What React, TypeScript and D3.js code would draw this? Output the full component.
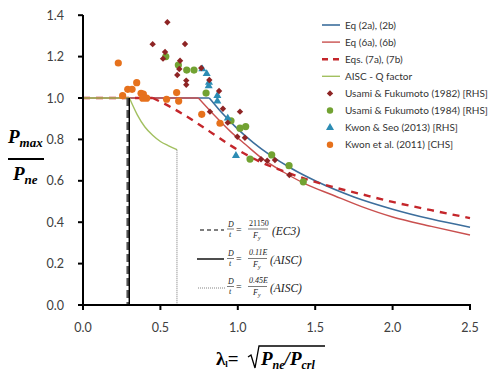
import React from "react";
import * as d3 from "d3";

// curves (lambda_l vs Pmax/Pne)
const eq2Lambda = [0, 0.816, 0.9, 1.0, 1.1, 1.2, 1.35, 1.5, 1.75, 2.0, 2.25, 2.5];
const eq2Ratio = [1, 1, 0.926, 0.85, 0.785, 0.729, 0.658, 0.6, 0.522, 0.463, 0.415, 0.376];

const eq6Lambda = [0, 0.745, 0.85, 0.95, 1.05, 1.15, 1.3, 1.45, 1.6, 1.8, 2.0, 2.25, 2.5];
const eq6Ratio = [1, 1, 0.915, 0.84, 0.775, 0.712, 0.64, 0.58, 0.535, 0.475, 0.425, 0.38, 0.338];

const eq7Lambda = [0, 0.45, 0.55, 0.65, 0.75, 0.85, 0.95, 1.05, 1.15, 1.3, 1.45, 1.6, 1.8, 2.0, 2.25, 2.5];
const eq7Ratio = [1, 1, 0.963, 0.92, 0.872, 0.822, 0.772, 0.728, 0.69, 0.645, 0.606, 0.573, 0.535, 0.498, 0.458, 0.42];

const qLambda = [0, 0.3, 0.35, 0.4, 0.45, 0.5, 0.55, 0.607];
const qRatio = [1, 1, 0.92, 0.86, 0.82, 0.79, 0.77, 0.75];

// slenderness limits (vertical lines)
const ec3Limit = 0.289;
const aiscCompact = 0.299;
const aiscMax = 0.607;
const aiscMaxRatio = 0.75;

// test data [lambda, ratio]
const usami1982: [number, number][] = [
  [0.545, 1.366], [0.45, 1.26], [0.659, 1.261], [0.53, 1.222], [0.517, 1.19],
  [0.627, 1.18], [0.622, 1.14], [0.609, 1.111], [0.764, 1.145], [0.667, 1.084],
  [0.667, 1.064], [0.816, 1.087], [0.879, 1.034], [0.904, 0.948], [0.82, 0.934],
  [1.014, 0.934], [0.935, 0.881], [0.997, 0.813], [1.046, 0.808], [1.15, 0.704],
  [1.19, 0.697], [1.24, 0.7], [1.333, 0.628],
];
const usami1984: [number, number][] = [
  [0.535, 1.2], [0.616, 1.159], [0.67, 1.135], [0.717, 1.135], [0.795, 1.024],
  [0.956, 0.89], [1.014, 0.854], [1.051, 0.862], [1.079, 0.705], [1.219, 0.725],
  [1.331, 0.673], [1.423, 0.595],
];
const kwonSeo: [number, number][] = [
  [0.771, 1.14], [0.799, 1.117], [0.814, 1.075], [0.812, 1.058], [0.868, 1.011],
  [0.868, 0.985], [0.935, 0.902], [0.988, 0.721],
];
const kwon2011: [number, number][] = [
  [0.228, 1.169], [0.256, 1.011], [0.289, 1.042], [0.317, 1.042], [0.347, 1.074],
  [0.375, 1.023], [0.39, 1.019], [0.386, 0.999], [0.411, 0.999], [0.54, 0.994],
  [0.605, 1.026], [0.618, 0.985], [0.767, 0.921], [0.885, 0.878],
];

const xTicks = [0, 0.5, 1.0, 1.5, 2.0, 2.5];
const yTicks = [0, 0.2, 0.4, 0.6, 0.8, 1.0, 1.2, 1.4];

const legendLabels = [
  "Eq (2a), (2b)",
  "Eq (6a), (6b)",
  "Eqs. (7a), (7b)",
  "AISC - Q factor",
  "Usami & Fukumoto (1982) [RHS]",
  "Usami & Fukumoto (1984) [RHS]",
  "Kwon & Seo (2013) [RHS]",
  "Kwon et al. (2011) [CHS]",
];

const BLUE = "#3c6e9c";
const RED = "#c9504f";
const DRED = "#c4262b";
const OLIVE = "#a2c060";
const MAROON = "#8e2424";
const GREEN = "#72a232";
const TEAL = "#2c8cb4";
const ORANGE = "#e6711c";

export default function App() {
  const x = d3.scaleLinear().domain([0, 2.5]).range([83, 470]);
  const y = d3.scaleLinear().domain([0, 1.4]).range([305, 15.2]);

  const straight = d3.line<number[]>().x(d => x(d[0])).y(d => y(d[1]));
  const smooth = d3.line<number[]>().x(d => x(d[0])).y(d => y(d[1])).curve(d3.curveMonotoneX);

  // flat plateau then a smooth falling branch
  const curvePath = (xs: number[], ys: number[]) => {
    const pts = xs.map((v, i) => [v, ys[i]]);
    return (straight(pts.slice(0, 2)) || "") + (smooth(pts.slice(1)) || "");
  };

  const diamond = d3.symbol().type(d3.symbolDiamond2).size(26)() || "";
  const triangle = d3.symbol().type(d3.symbolTriangle).size(28)() || "";

  const font = "Lato, 'Open Sans', sans-serif";
  const serif = "'Liberation Serif', 'DejaVu Serif', serif";

  const legendY = (i: number) => 25 + i * 17.1;

  return (
    <svg width={500} height={386} style={{ position: "fixed", left: 0, top: 0, background: "#fff" }}>
      {/* curves */}
      <path d={curvePath(eq2Lambda, eq2Ratio)} fill="none" stroke={BLUE} strokeWidth={1.6} />
      <path d={curvePath(eq6Lambda, eq6Ratio)} fill="none" stroke={RED} strokeWidth={1.4} />
      <path d={curvePath(eq7Lambda, eq7Ratio)} fill="none" stroke={DRED} strokeWidth={2.4} strokeDasharray="7,6" />
      <path d={curvePath(qLambda, qRatio)} fill="none" stroke={OLIVE} strokeWidth={1.4} />

      {/* slenderness limits */}
      <line x1={x(ec3Limit)} x2={x(ec3Limit)} y1={y(1)} y2={y(0)} stroke="#555" strokeWidth={2.6} strokeDasharray="8,4" />
      <line x1={x(aiscCompact)} x2={x(aiscCompact)} y1={y(1)} y2={y(0)} stroke="#000" strokeWidth={1.4} />
      <line x1={x(aiscMax)} x2={x(aiscMax)} y1={y(aiscMaxRatio)} y2={y(0)} stroke="#555" strokeWidth={0.8} strokeDasharray="1,1" />

      {/* data points */}
      {kwon2011.map((d, i) => (
        <circle key={"o" + i} cx={x(d[0])} cy={y(d[1])} r={3.6} fill={ORANGE} />
      ))}
      {usami1984.map((d, i) => (
        <circle key={"g" + i} cx={x(d[0])} cy={y(d[1])} r={3.6} fill={GREEN} />
      ))}
      {kwonSeo.map((d, i) => (
        <path key={"t" + i} d={triangle} transform={`translate(${x(d[0])},${y(d[1])})`} fill={TEAL} />
      ))}
      {usami1982.map((d, i) => (
        <path key={"d" + i} d={diamond} transform={`translate(${x(d[0])},${y(d[1])})`} fill={MAROON} />
      ))}

      {/* axes */}
      <line x1={83} x2={83} y1={15} y2={306} stroke="#000" strokeWidth={2} />
      <line x1={82} x2={471} y1={305} y2={305} stroke="#000" strokeWidth={2} />
      {yTicks.map(t => (
        <g key={"y" + t}>
          <line x1={78} x2={83} y1={y(t)} y2={y(t)} stroke="#000" strokeWidth={2} />
          <text x={64} y={y(t) + 4.5} textAnchor="end" fontSize={12.5} fontFamily={font} fill="#404040">
            {t.toFixed(1)}
          </text>
        </g>
      ))}
      {xTicks.map(t => (
        <g key={"x" + t}>
          <line x1={x(t)} x2={x(t)} y1={305} y2={310} stroke="#000" strokeWidth={2} />
          <text x={x(t)} y={332} textAnchor="middle" fontSize={12.5} fontFamily={font} fill="#404040">
            {t.toFixed(1)}
          </text>
        </g>
      ))}

      {/* y title */}
      <g fontFamily={serif} fontWeight="bold" fontStyle="italic" fill="#000">
        <text x={8} y={143} fontSize={19}>
          P<tspan fontSize={13} dy={4}>max</tspan>
        </text>
        <line x1={8} x2={44} y1={159} y2={159} stroke="#000" strokeWidth={1.8} />
        <text x={13} y={180} fontSize={19}>
          P<tspan fontSize={13} dy={4}>ne</tspan>
        </text>
      </g>

      {/* x title */}
      <g fontFamily={serif} fontWeight="bold" fill="#000">
        <text x={216} y={365} fontSize={19}>
          λ<tspan fontSize={9} dy={2}>l</tspan><tspan dy={-2}>=</tspan>
        </text>
        <path d="M248,357 L251,355 L255,368 L259,346 L325,346" fill="none" stroke="#000" strokeWidth={1.3} />
        <text x={261} y={365} fontSize={19} fontStyle="italic">
          P<tspan fontSize={12} dy={4}>ne</tspan><tspan dy={-4}>/P</tspan><tspan fontSize={12} dy={4}>crl</tspan>
        </text>
      </g>

      {/* slenderness limit key */}
      <g fontFamily={serif} fontStyle="italic" fill="#222">
        <line x1={200} x2={224} y1={230} y2={230} stroke="#555" strokeWidth={1.6} strokeDasharray="4,3" />
        <text x={228} y={227} fontSize={8}>D</text>
        <line x1={227} x2={234} y1={229} y2={229} stroke="#222" strokeWidth={0.6} />
        <text x={229} y={237} fontSize={8}>t</text>
        <text x={236} y={233} fontSize={10} fontStyle="normal">=</text>
        <text x={249} y={226} fontSize={8} fontStyle="normal">21150</text>
        <line x1={248} x2={268} y1={229} y2={229} stroke="#222" strokeWidth={0.6} />
        <text x={253} y={238} fontSize={8}>F<tspan fontSize={6} dy={1.5}>y</tspan></text>
        <text x={272} y={235} fontSize={11.5}>(EC3)</text>

        <line x1={197} x2={224} y1={259} y2={259} stroke="#000" strokeWidth={1.4} />
        <text x={228} y={256} fontSize={8}>D</text>
        <line x1={227} x2={234} y1={258.5} y2={258.5} stroke="#222" strokeWidth={0.6} />
        <text x={229} y={266} fontSize={8}>t</text>
        <text x={236} y={262} fontSize={10} fontStyle="normal">=</text>
        <text x={249} y={255} fontSize={8}>0.11<tspan>E</tspan></text>
        <line x1={248} x2={267} y1={258.5} y2={258.5} stroke="#222" strokeWidth={0.6} />
        <text x={253} y={267} fontSize={8}>F<tspan fontSize={6} dy={1.5}>y</tspan></text>
        <text x={270} y={264} fontSize={11.5}>(AISC)</text>

        <line x1={198} x2={225} y1={288} y2={288} stroke="#666" strokeWidth={0.8} strokeDasharray="1,1" />
        <text x={228} y={284} fontSize={8}>D</text>
        <line x1={227} x2={234} y1={286.5} y2={286.5} stroke="#222" strokeWidth={0.6} />
        <text x={229} y={294} fontSize={8}>t</text>
        <text x={236} y={290} fontSize={10} fontStyle="normal">=</text>
        <text x={249} y={283} fontSize={8}>0.45<tspan>E</tspan></text>
        <line x1={248} x2={267} y1={286.5} y2={286.5} stroke="#222" strokeWidth={0.6} />
        <text x={253} y={295} fontSize={8}>F<tspan fontSize={6} dy={1.5}>y</tspan></text>
        <text x={270} y={292} fontSize={11.5}>(AISC)</text>
      </g>

      {/* legend */}
      <g fontFamily={font} fontSize={10} fill="#333">
        <line x1={322} x2={340} y1={legendY(0)} y2={legendY(0)} stroke={BLUE} strokeWidth={1.6} />
        <line x1={322} x2={340} y1={legendY(1)} y2={legendY(1)} stroke={RED} strokeWidth={1.4} />
        <line x1={322} x2={340} y1={legendY(2)} y2={legendY(2)} stroke={DRED} strokeWidth={2.4} strokeDasharray="6,5" />
        <line x1={322} x2={340} y1={legendY(3)} y2={legendY(3)} stroke={OLIVE} strokeWidth={1.4} />
        <path d={diamond} transform={`translate(330,${legendY(4)})`} fill={MAROON} />
        <circle cx={330} cy={legendY(5)} r={3.2} fill={GREEN} />
        <path d={triangle} transform={`translate(330,${legendY(6)})`} fill={TEAL} />
        <circle cx={330} cy={legendY(7)} r={3.2} fill={ORANGE} />
        {legendLabels.map((l, i) => (
          <text key={l} x={345} y={legendY(i) + 3.6}>{l}</text>
        ))}
      </g>
    </svg>
  );
}
